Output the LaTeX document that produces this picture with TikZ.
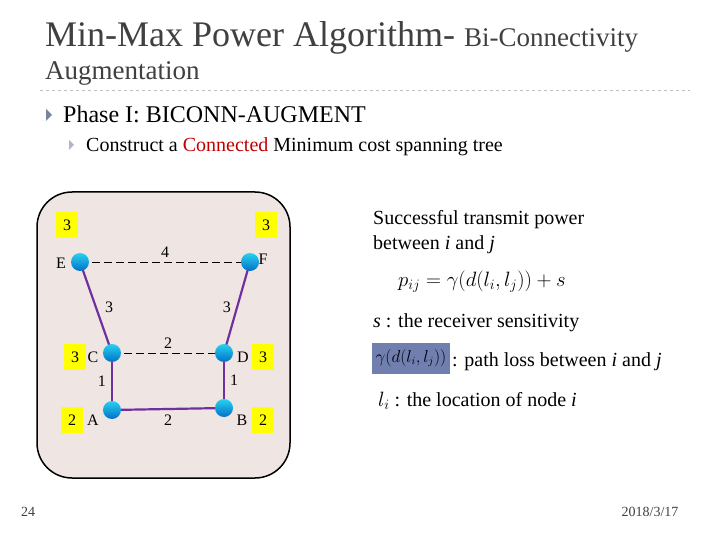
\documentclass[tikz,border=0pt]{standalone}
\usepackage{fontspec}
\setmainfont{Liberation Serif}
\usepackage{tikz}

\definecolor{slidegray}{RGB}{64,64,64}
\definecolor{boxpink}{RGB}{239,229,227}
\definecolor{edgepurple}{RGB}{112,48,160}
\definecolor{nodetop}{RGB}{40,210,240}
\definecolor{nodebottom}{RGB}{0,112,200}
\definecolor{markyellow}{RGB}{255,255,0}
\definecolor{hlblue}{RGB}{112,126,176}
\definecolor{bulletgray}{RGB}{120,132,158}
\definecolor{connred}{RGB}{192,0,0}

\tikzset{
  sensor/.style={circle,minimum size=18pt,inner sep=0pt,top color=nodetop,bottom color=nodebottom},
  powerbox/.style={fill=markyellow,minimum width=22pt,minimum height=26pt,inner sep=0pt,font=\fontsize{16}{16}\selectfont},
  nodename/.style={inner sep=0pt,font=\fontsize{16}{16}\selectfont},
  tree/.style={draw=edgepurple,line width=2.2pt},
  extra/.style={draw=black,dash pattern=on 8pt off 4pt,line width=1pt},
  weight/.style={inner sep=2pt,font=\fontsize{16}{16}\selectfont},
  bodytext/.style={anchor=base west,inner sep=0pt,font=\fontsize{20}{20}\selectfont},
}

\begin{document}
\begin{tikzpicture}[x=1pt,y=-1pt]
    \useasboundingbox[fill=white] (0,0) rectangle (720,540);
    % Heading
    \node[anchor=base west,inner sep=0pt,text=slidegray] (title) at (45,47)
        {\fontsize{36}{36}\selectfont Min-Max Power Algorithm- \fontsize{27}{27}\selectfont Bi-Connectivity};
    \node[anchor=base west,inner sep=0pt,text=slidegray,font=\fontsize{27}{27}\selectfont] (title2) at (45,80) {Augmentation};
    \draw[gray!50,dashed,line width=0.8pt] (40,90) -- (690,90);
    % Bullets
    \fill[bulletgray] (46,109) -- (52,115) -- (46,121) -- cycle;
    \node[anchor=base west,inner sep=0pt,font=\fontsize{24}{24}\selectfont] (phase) at (63,123) {Phase I: BICONN-AUGMENT};
    \fill[bulletgray!60] (69,140) -- (74,145) -- (69,150) -- cycle;
    \node[anchor=base west,inner sep=0pt,font=\fontsize{20}{20}\selectfont] (step1) at (86,152)
        {Construct a \textcolor{connred}{Connected} Minimum cost spanning tree};
    % Graph panel
    \draw[fill=boxpink,line width=1.5pt,rounded corners=35pt] (37,192) rectangle (290,478);
    \coordinate (E) at (80,262);
    \coordinate (F) at (250,262);
    \coordinate (C) at (112,353);
    \coordinate (D) at (224,353);
    \coordinate (A) at (112,410);
    \coordinate (B) at (224,408);
    \draw[extra] (E) -- (F) node[weight,midway,above=2pt] {4};
    \draw[extra] (C) -- (D) node[weight,midway,above=2pt] {2};
    \draw[tree] (E) -- (C) node[weight,midway,right=6pt] {3};
    \draw[tree] (F) -- (D) node[weight,midway,left=3pt] {3};
    \draw[tree] (C) -- (A) node[weight,midway,left=3pt] {1};
    \draw[tree] (D) -- (B) node[weight,midway,right=3pt] {1};
    \draw[tree] (A) -- (B) node[weight,midway,below=3pt] {2};
    \foreach \v in {E,F,C,D,A,B}
        \node[sensor] (ball\v) at (\v) {};
    % Node names and powers
    \node[nodename] (nameE) at (61,263) {E};
    \node[nodename] (nameF) at (263,259) {F};
    \node[nodename] (nameC) at (93,357) {C};
    \node[nodename] (nameD) at (243,357) {D};
    \node[nodename] (nameA) at (93,420) {A};
    \node[nodename] (nameB) at (242,420) {B};
    \node[powerbox] (pE) at (67,225) {3};
    \node[powerbox] (pF) at (266,225) {3};
    \node[powerbox] (pC) at (75,357) {3};
    \node[powerbox] (pD) at (263,357) {3};
    \node[powerbox] (pA) at (72,420) {2};
    \node[powerbox] (pB) at (263,420) {2};
    % Power model
    \node[bodytext] (succ) at (373,225) {Successful transmit power};
    \node[bodytext] (betw) at (373,249) {between \textit{i} and \textit{j}};
    \node[anchor=west,inner sep=0pt,font=\fontsize{20}{20}\selectfont] (pij) at (398,282)
        {$p_{ij}=\gamma(d(l_i,l_j))+s$};
    \node[bodytext] (sens) at (373,327) {\textit{s} : the receiver sensitivity};
    \node[fill=hlblue,minimum width=78pt,minimum height=31pt,inner sep=0pt,font=\fontsize{16}{16}\selectfont] (gam) at (411,358)
        {$\gamma(d(l_i,l_j))$};
    \node[bodytext] (loss) at (452,366) {: path loss between \textit{i} and \textit{j}};
    \node[bodytext] (loc) at (378,406) {$l_i$ : the location of node \textit{i}};
    % Footer
    \node[inner sep=0pt,text=slidegray,font=\fontsize{14}{14}\selectfont] (pg) at (28,512) {24};
    \node[inner sep=0pt,text=slidegray,font=\fontsize{14}{14}\selectfont] (date) at (650,512) {2018/3/17};
\end{tikzpicture}
\end{document}
